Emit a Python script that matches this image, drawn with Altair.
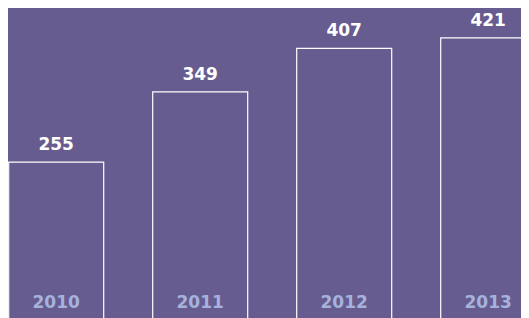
import altair as alt
import pandas as pd

years = [2010, 2011, 2012, 2013]
values = [255, 349, 407, 421]

df = pd.DataFrame({"year": years, "value": values})

BG = "#675c8f"
FONT = "DejaVu Sans"
STEP = 144.0      # px between bar starts
BAR_W = 95.0      # px bar width
PLOT_W = 513
PLOT_H = 310
X0 = 0.7          # px of first bar's left edge

d0 = years[0] - X0 / STEP
d1 = d0 + PLOT_W / STEP
frac = BAR_W / STEP

xscale = alt.Scale(domain=[d0, d1], zero=False, nice=False)
yscale = alt.Scale(domain=[0, 461], range=[345, 0], zero=False, nice=False)

base = alt.Chart(df).transform_calculate(
    x_end=f"datum.year + {frac}",
    x_mid=f"datum.year + {frac / 2}",
    label="toString(datum.year)",
)

bars = base.mark_bar(fill=BG, stroke="white", strokeWidth=1.2, clip=True).encode(
    x=alt.X("year:Q", scale=xscale, axis=None),
    x2="x_end:Q",
    y=alt.Y("value:Q", scale=yscale, axis=None),
    y2=alt.datum(0),
)

values_txt = base.mark_text(
    dy=-12, baseline="alphabetic", font=FONT, fontSize=17,
    fontWeight="bold", color="white",
).encode(
    x=alt.X("x_mid:Q", scale=xscale, axis=None),
    y=alt.Y("value:Q", scale=yscale, axis=None),
    text="value:Q",
)

year_txt = base.mark_text(
    baseline="alphabetic", font=FONT, fontSize=17,
    fontWeight="bold", color="#a6b2de",
).encode(
    x=alt.X("x_mid:Q", scale=xscale, axis=None),
    y=alt.value(300),
    text="label:N",
)

chart = (bars + values_txt + year_txt).properties(
    width=PLOT_W, height=PLOT_H, background=BG, padding=0,
    autosize=alt.AutoSizeParams(type="none"),
).configure_view(stroke=None)

chart.save("out.html", embed_options={"renderer": "svg", "actions": False})
